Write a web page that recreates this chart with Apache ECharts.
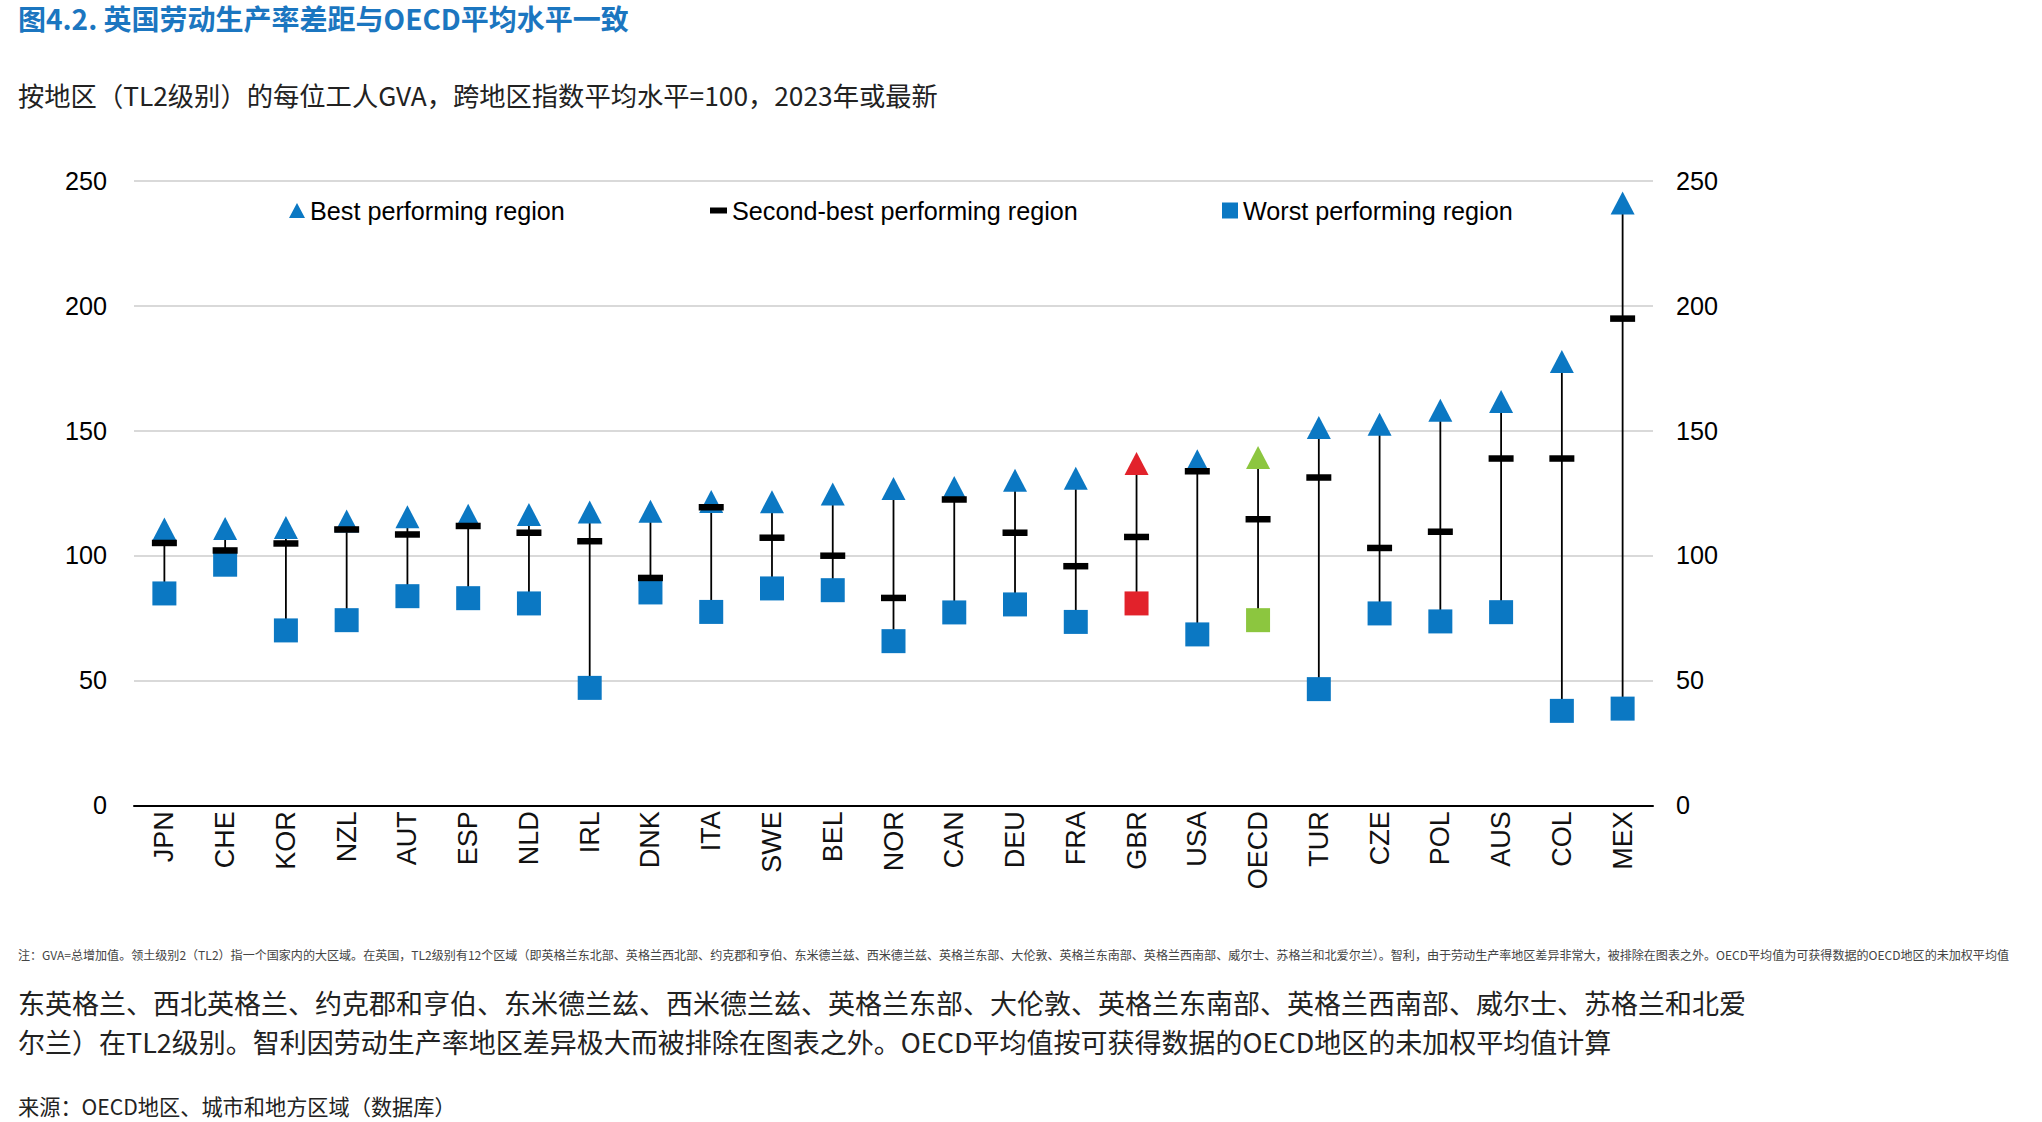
<!DOCTYPE html>
<html>
<head>
<meta charset="utf-8">
<title>图4.2</title>
<script src="https://cdn.jsdelivr.net/npm/echarts@6.0.0/dist/echarts.min.js"></script>
<style>
  html, body { margin: 0; padding: 0; background: #fff; }
  #chart { width: 2042px; height: 1122px; }
</style>
</head>
<body>
<div id="chart"></div>
<script>
// 国家 / 地区
const categories = ['JPN', 'CHE', 'KOR', 'NZL', 'AUT', 'ESP', 'NLD', 'IRL', 'DNK', 'ITA', 'SWE', 'BEL', 'NOR',
  'CAN', 'DEU', 'FRA', 'GBR', 'USA', 'OECD', 'TUR', 'CZE', 'POL', 'AUS', 'COL', 'MEX'];

// 每位工人GVA指数（平均=100）
const bestRegion = [110.6, 110.8, 111.2, 113.8, 115.5, 116.1, 116.4, 117.4, 117.7, 121.6, 121.5, 124.6, 126.8,
  127.2, 130.1, 130.9, 136.8, 137.9, 139.2, 151.2, 152.5, 158.1, 161.6, 177.6, 241.1];
const secondRegion = [105.0, 102.0, 104.8, 110.4, 108.4, 111.8, 109.1, 105.7, 91.0, 119.3, 107.1, 99.9, 83.0,
  122.4, 109.1, 95.7, 107.4, 133.7, 114.5, 131.2, 103.0, 109.5, 138.8, 138.8, 194.8];
const worstRegion = [84.8, 96.3, 70.0, 74.1, 83.7, 82.9, 80.8, 47.0, 85.2, 77.4, 86.8, 86.1, 65.7,
  77.2, 80.4, 73.4, 80.8, 68.4, 74.1, 46.5, 76.8, 73.6, 77.3, 37.8, 38.7];

const yTicks = [0, 50, 100, 150, 200, 250];

const seriesNames = ['Best performing region', 'Second-best performing region', 'Worst performing region'];

const BLUE = '#0b78c3';
const highlight = { GBR: '#e2222b', OECD: '#8cc63f' };

// 没有窄体字体，用 Liberation Sans 缩小字号代替
const LABEL_FONT = '"Liberation Sans", Arial, sans-serif';
const LABEL_SIZE = 25.2;
const CJK = '"Noto Sans CJK SC", sans-serif';

const colored = (vals) => vals.map((v, i) => {
  const c = highlight[categories[i]];
  return c ? { value: v, itemStyle: { color: c } } : v;
});

const chart = echarts.init(document.getElementById('chart'), null, { renderer: 'svg' });

const legendBase = {
  orient: 'horizontal',
  top: 198,
  padding: 0,
  selectedMode: false,
  textStyle: { fontFamily: LABEL_FONT, fontSize: LABEL_SIZE, color: '#000' },
};

chart.setOption({
  animation: false,
  backgroundColor: '#fff',
  grid: { left: 134, right: 389, top: 180.7, bottom: 316.7 },
  legend: [
    { ...legendBase, left: 289, itemWidth: 16, itemHeight: 15, data: [{ name: seriesNames[0], icon: 'triangle' }] },
    { ...legendBase, left: 710, itemWidth: 17, itemHeight: 6, data: [{ name: seriesNames[1], icon: 'rect' }] },
    { ...legendBase, left: 1222, itemWidth: 16, itemHeight: 16, data: [{ name: seriesNames[2], icon: 'rect' }] },
  ],
  xAxis: {
    type: 'category',
    data: categories,
    axisLine: { lineStyle: { color: '#000', width: 2 } },
    axisTick: { inside: true, length: 7, lineStyle: { color: '#000', width: 1.5 } },
    axisLabel: { rotate: 90, fontFamily: LABEL_FONT, fontSize: 27, color: '#111', margin: 6 },
    splitLine: { show: false },
  },
  yAxis: [
    {
      type: 'value',
      position: 'left',
      min: yTicks[0],
      max: yTicks[yTicks.length - 1],
      interval: 50,
      axisLine: { show: false },
      axisTick: { show: false },
      axisLabel: { fontFamily: LABEL_FONT, fontSize: LABEL_SIZE, color: '#000', margin: 27 },
      splitLine: { lineStyle: { color: '#d9d9d9', width: 2 } },
    },
    {
      type: 'value',
      position: 'right',
      min: yTicks[0],
      max: yTicks[yTicks.length - 1],
      interval: 50,
      axisLine: { show: false },
      axisTick: { show: false },
      axisLabel: { fontFamily: LABEL_FONT, fontSize: LABEL_SIZE, color: '#000', margin: 23 },
      splitLine: { show: false },
    },
  ],
  series: [
    {
      name: seriesNames[0],
      type: 'scatter',
      symbol: 'triangle',
      symbolSize: [24, 23],
      itemStyle: { color: BLUE, opacity: 1 },
      data: colored(bestRegion),
    },
    {
      name: seriesNames[2],
      type: 'scatter',
      symbol: 'rect',
      symbolSize: 24,
      itemStyle: { color: BLUE, opacity: 1 },
      data: colored(worstRegion),
    },
    {
      // 最高与最低地区之间的连线
      type: 'custom',
      name: 'range',
      data: categories.map((c, i) => [i, bestRegion[i], worstRegion[i]]),
      encode: { x: 0, y: [1, 2] },
      renderItem: (params, api) => {
        const top = api.coord([api.value(0), api.value(1)]);
        const bottom = api.coord([api.value(0), api.value(2)]);
        return {
          type: 'line',
          shape: { x1: top[0], y1: top[1], x2: bottom[0], y2: bottom[1] },
          style: { stroke: '#000', lineWidth: 1.8 },
        };
      },
      silent: true,
    },
    {
      name: seriesNames[1],
      type: 'scatter',
      symbol: 'rect',
      symbolSize: [25, 6.5],
      itemStyle: { color: '#000', opacity: 1 },
      data: secondRegion,
    },
  ],
  graphic: [
    {
      type: 'text', left: 18, top: 4,
      style: { text: '图4.2. 英国劳动生产率差距与OECD平均水平一致', font: 'bold 28px ' + CJK, fill: '#1b76c0' },
    },
    {
      type: 'text', left: 18, top: 81,
      style: { text: '按地区（TL2级别）的每位工人GVA，跨地区指数平均水平=100，2023年或最新', font: '26.3px ' + CJK, fill: '#222' },
    },
    {
      type: 'text', left: 18, top: 948,
      style: {
        text: '注：GVA=总增加值。领土级别2（TL2）指一个国家内的大区域。在英国，TL2级别有12个区域（即英格兰东北部、英格兰西北部、约克郡和亨伯、东米德兰兹、西米德兰兹、英格兰东部、大伦敦、英格兰东南部、英格兰西南部、威尔士、苏格兰和北爱尔兰）。智利，由于劳动生产率地区差异非常大，被排除在图表之外。OECD平均值为可获得数据的OECD地区的未加权平均值',
        font: '12.05px ' + CJK, fill: '#444',
      },
    },
    {
      type: 'text', left: 18, top: 989,
      style: { text: '东英格兰、西北英格兰、约克郡和亨伯、东米德兰兹、西米德兰兹、英格兰东部、大伦敦、英格兰东南部、英格兰西南部、威尔士、苏格兰和北爱', font: '27px ' + CJK, fill: '#222' },
    },
    {
      type: 'text', left: 18, top: 1028,
      style: { text: '尔兰）在TL2级别。智利因劳动生产率地区差异极大而被排除在图表之外。OECD平均值按可获得数据的OECD地区的未加权平均值计算', font: '27px ' + CJK, fill: '#222' },
    },
    {
      type: 'text', left: 18, top: 1095,
      style: { text: '来源：OECD地区、城市和地方区域（数据库）', font: '21.2px ' + CJK, fill: '#222' },
    },
  ],
});

window.addEventListener('resize', () => chart.resize());
</script>
</body>
</html>
